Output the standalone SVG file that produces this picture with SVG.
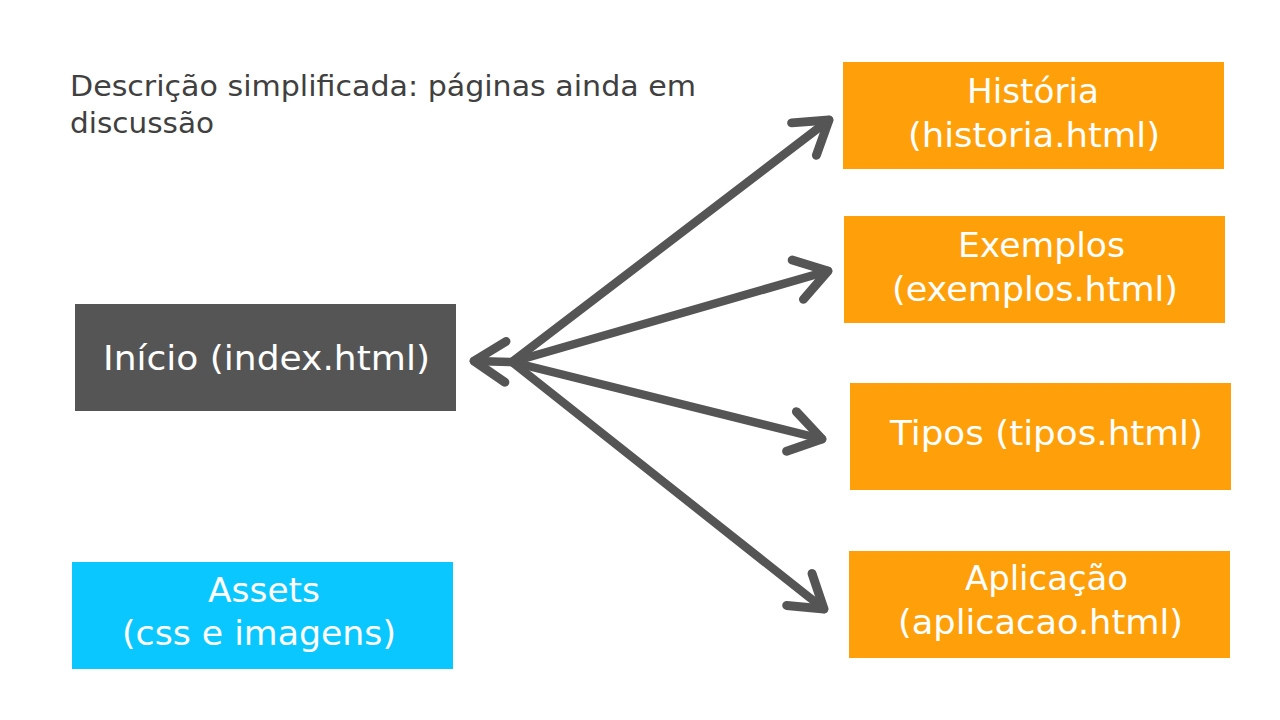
<svg xmlns="http://www.w3.org/2000/svg" width="1280" height="720" viewBox="0 0 1280 720">
<style>
.t{font-family:"DejaVu Sans",Verdana,sans-serif;fill:#ffffff;font-size:33px}
.title{font-family:"DejaVu Sans",Verdana,sans-serif;fill:#404040;font-size:29px}
.orange{fill:#FFA00A}
.conn line{stroke:#555555;stroke-width:8.5;stroke-linecap:round;fill:none;marker-end:url(#ah)}
</style>
<defs>
<marker id="ah" viewBox="-6 -4 8 8" markerWidth="8" markerHeight="8" refX="0" refY="0" orient="auto" markerUnits="strokeWidth" overflow="visible">
<path d="M-3.7,-2.4 L0,0 L-3.7,2.4" fill="none" stroke="#555555" stroke-width="1.05" stroke-linecap="round" stroke-linejoin="round"/>
</marker>
</defs>
<rect width="1280" height="720" fill="#ffffff"/>
<text class="title" x="70" y="96" textLength="626" lengthAdjust="spacingAndGlyphs">Descrição simplificada: páginas ainda em</text>
<text class="title" x="70" y="133" textLength="144" lengthAdjust="spacingAndGlyphs">discussão</text>
<g class="conn" id="connectors">
<line x1="512" y1="362" x2="474" y2="361"/>
<line x1="512" y1="362" x2="829" y2="120"/>
<line x1="512" y1="362" x2="828" y2="271"/>
<line x1="512" y1="362" x2="822" y2="439"/>
<line x1="512" y1="362" x2="824" y2="609"/>
</g>
<g id="inicio">
<rect x="75" y="304" width="381" height="107" fill="#555555"/>
<text class="t" x="103" y="370" textLength="327" lengthAdjust="spacingAndGlyphs">Início (index.html)</text>
</g>
<g id="assets">
<rect x="72" y="562" width="381" height="107" fill="#0AC8FF"/>
<text class="t" x="208" y="602" textLength="112" lengthAdjust="spacingAndGlyphs">Assets</text>
<text class="t" x="122" y="645" textLength="274" lengthAdjust="spacingAndGlyphs">(css e imagens)</text>
</g>
<g id="historia">
<rect class="orange" x="843" y="62" width="381" height="107"/>
<text class="t" x="967" y="103" textLength="132" lengthAdjust="spacingAndGlyphs">História</text>
<text class="t" x="908" y="147" textLength="252" lengthAdjust="spacingAndGlyphs">(historia.html)</text>
</g>
<g id="exemplos">
<rect class="orange" x="844" y="216" width="381" height="107"/>
<text class="t" x="958" y="257" textLength="167" lengthAdjust="spacingAndGlyphs">Exemplos</text>
<text class="t" x="892" y="301" textLength="286" lengthAdjust="spacingAndGlyphs">(exemplos.html)</text>
</g>
<g id="tipos">
<rect class="orange" x="850" y="383" width="381" height="107"/>
<text class="t" x="890" y="445" textLength="313" lengthAdjust="spacingAndGlyphs">Tipos (tipos.html)</text>
</g>
<g id="aplicacao">
<rect class="orange" x="849" y="551" width="381" height="107"/>
<text class="t" x="965" y="590" textLength="163" lengthAdjust="spacingAndGlyphs">Aplicação</text>
<text class="t" x="898" y="634" textLength="285" lengthAdjust="spacingAndGlyphs">(aplicacao.html)</text>
</g>
</svg>
